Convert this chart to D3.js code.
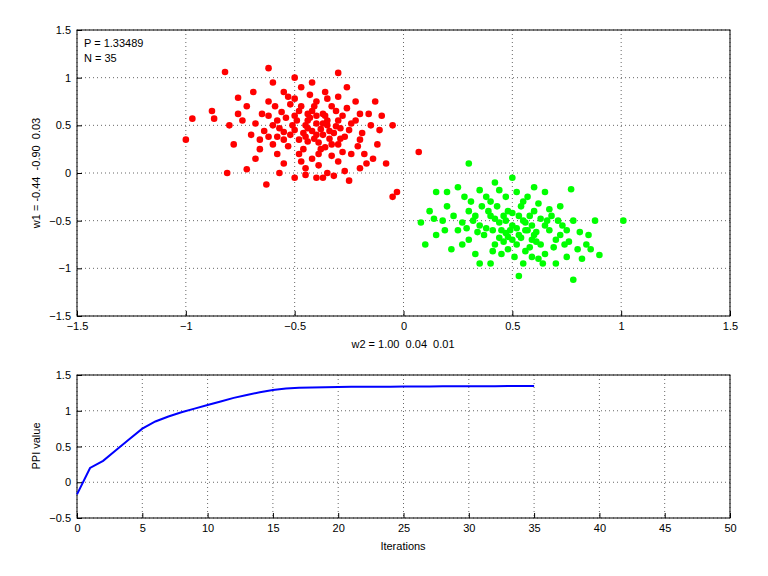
<!DOCTYPE html>
<html><head><meta charset="utf-8">
<script src="https://cdn.jsdelivr.net/npm/d3@7"></script>
<style>body{margin:0;background:#fff}text{font-family:"Liberation Sans",Arial,sans-serif;font-size:11px;white-space:pre}</style>
</head><body><svg id="c" width="768" height="576"></svg>
<script>
const redPts=[[-1.0,0.35],[-0.97,0.57],[-0.82,1.06],[-0.81,0.0],[-0.62,1.1],[-0.63,-0.12],[-0.72,0.04],[-0.3,1.05],[-0.05,0.5],[0.07,0.22],[-0.03,-0.2],[-0.05,-0.25],[-0.37,-0.05],[-0.4,-0.05],[-0.88,0.65],[-0.87,0.57],[-0.76,0.79],
[-0.45,0.5],[-0.4,0.4],[-0.5,0.6],[-0.35,0.55],[-0.55,0.35],[-0.3,0.3],[-0.42,0.65],[-0.6,0.5],[-0.25,0.45],[-0.48,0.2],[-0.38,0.25],[-0.52,0.72],[-0.33,0.7],[-0.65,0.62],[-0.28,0.6],[-0.44,0.33],[-0.58,0.2],[-0.2,0.35],[-0.7,0.4],[-0.36,0.85],[-0.47,0.9],[-0.55,0.85],[-0.62,0.75],[-0.22,0.75],[-0.15,0.5],[-0.18,0.2],[-0.3,0.12],[-0.45,0.05],[-0.55,0.1],[-0.66,0.25],[-0.74,0.55],[-0.78,0.3],[-0.68,0.15],[-0.4,0.75],[-0.32,0.42],[-0.5,0.45],[-0.58,0.55],[-0.26,0.9],[-0.1,0.6],[-0.12,0.3],[-0.08,0.1],[-0.2,0.05],[-0.35,0.0],[-0.5,-0.05],[-0.25,-0.08],[-0.42,0.15],[-0.62,0.38],[-0.72,0.7],[-0.8,0.5],[-0.6,0.95],[-0.5,1.0],[-0.42,0.95],[-0.3,0.8],[-0.37,0.62],[-0.46,0.42],[-0.53,0.28],[-0.4,0.52],[-0.34,0.36],[-0.28,0.22],[-0.16,0.62],[-0.22,0.55],[-0.47,0.7],[-0.56,0.64],[-0.64,0.44],[-0.38,0.46],[-0.43,0.58],[-0.31,0.49],
[-0.44,0.47],[-0.39,0.32],[-0.49,0.55],[-0.36,0.6],[-0.52,0.4],[-0.27,0.38],[-0.41,0.7],[-0.57,0.47],[-0.24,0.52],[-0.46,0.25],[-0.33,0.18],[-0.5,0.78],[-0.35,0.5],[-0.45,0.38],[-0.4,0.6],[-0.3,0.55],[-0.54,0.58],[-0.6,0.3],[-0.19,0.42],[-0.14,0.15],
[-0.42,0.44],[-0.37,0.52],[-0.48,0.35],[-0.33,0.3],[-0.51,0.5],[-0.29,0.47],[-0.44,0.62],[-0.39,0.2],[-0.55,0.43],[-0.26,0.68],[-0.35,0.78],[-0.47,0.12],[-0.62,0.6],[-0.21,0.28],[-0.31,0.65],[-0.53,0.8],[-0.43,0.82],[-0.59,0.7],[-0.68,0.52],[-0.17,0.1],[-0.27,0.02],[-0.39,0.08],[-0.24,0.2],[-0.11,0.45],[-0.13,0.75],[-0.69,0.85],[-0.76,0.62],[-0.66,0.35],[-0.57,0.0],[-0.45,-0.02],[-0.32,-0.03],[-0.2,0.62],[-0.34,0.44],[-0.41,0.36],[-0.36,0.27],[-0.48,0.65],[-0.58,0.38],[-0.29,0.36],[-0.44,0.55],[-0.37,0.4]];
const greenPts=[[0.5,-0.55],[0.45,-0.6],[0.55,-0.5],[0.6,-0.65],[0.4,-0.45],[0.35,-0.55],[0.65,-0.55],[0.5,-0.7],[0.48,-0.4],[0.58,-0.78],[0.42,-0.75],[0.3,-0.4],[0.7,-0.7],[0.68,-0.45],[0.25,-0.6],[0.55,-0.3],[0.38,-0.25],[0.45,-0.85],[0.62,-0.9],[0.75,-0.6],[0.8,-0.8],[0.2,-0.35],[0.22,-0.8],[0.3,-0.7],[0.52,-0.2],[0.72,-0.35],[0.85,-0.65],[0.6,-0.4],[0.4,-0.95],[0.65,-0.85],[0.18,-0.5],[0.12,-0.4],[0.28,-0.25],[0.33,-0.85],[0.57,-0.6],[0.47,-0.5],[0.53,-0.65],[0.43,-0.35],[0.37,-0.65],[0.63,-0.75],[0.78,-0.5],[0.82,-0.9],[0.7,-0.95],[0.55,-0.95],[0.25,-0.15],[0.42,-0.1],[0.5,-0.05],[0.65,-0.2],[0.15,-0.65],[0.2,-0.2],[0.32,-0.5],[0.58,-0.45],[0.46,-0.72],[0.74,-0.75],[0.86,-0.8],[0.88,-0.5],[0.9,-0.86],[0.78,-1.12],[0.53,-1.08],[0.35,-0.95],[0.08,-0.52],[0.1,-0.75],[0.3,0.1],[1.01,-0.5],[0.77,-0.17],[0.6,-0.15],[0.15,-0.2],
[0.52,-0.58],[0.47,-0.63],[0.56,-0.52],[0.61,-0.62],[0.42,-0.48],[0.38,-0.58],[0.67,-0.6],[0.52,-0.75],[0.5,-0.42],[0.59,-0.7],[0.44,-0.68],[0.33,-0.45],[0.72,-0.65],[0.66,-0.5],[0.27,-0.52],[0.54,-0.35],[0.4,-0.3],[0.48,-0.8],[0.64,-0.95],[0.76,-0.72],
[0.49,-0.6],[0.54,-0.68],[0.44,-0.52],[0.59,-0.55],[0.39,-0.4],[0.63,-0.48],[0.56,-0.82],[0.46,-0.45],[0.34,-0.62],[0.69,-0.78],[0.41,-0.82],[0.29,-0.58],[0.73,-0.55],[0.62,-0.32],[0.23,-0.45],[0.51,-0.88],[0.36,-0.35],[0.47,-0.25],[0.57,-0.25],[0.67,-0.38],[0.81,-0.62],[0.75,-0.88],[0.59,-0.88],[0.27,-0.75],[0.19,-0.6],[0.14,-0.48],[0.31,-0.3],[0.44,-0.18],[0.35,-0.18],[0.84,-0.75],[0.71,-0.5],[0.53,-0.45],[0.48,-0.67],[0.61,-0.72],[0.41,-0.6],[0.56,-0.6]];
const ppi=[-0.17,0.2,0.3,0.45,0.6,0.75,0.85,0.92,0.98,1.03,1.08,1.13,1.18,1.22,1.26,1.29,1.31,1.32,1.325,1.33,1.332,1.334,1.335,1.336,1.337,1.338,1.339,1.34,1.341,1.342,1.343,1.344,1.344,1.345,1.345,1.345];
const scatterTicks=[-1.5,-1,-0.5,0,0.5,1,1.5];
const iterTicks=[0,5,10,15,20,25,30,35,40,45,50];
const ppiTicks=[-0.5,0,0.5,1,1.5];

const svg=d3.select("#c");
function frame(g,x,y,xt,yt){
  const [x0,x1]=x.range(),[y1,y0]=y.range();
  g.selectAll(".gx").data(xt).join("line").attr("x1",d=>x(d)).attr("x2",d=>x(d)).attr("y1",y0).attr("y2",y1).attr("stroke","#000").attr("stroke-width",0.6).attr("stroke-dasharray","1,3");
  g.selectAll(".gy").data(yt).join("line").attr("y1",d=>y(d)).attr("y2",d=>y(d)).attr("x1",x0).attr("x2",x1).attr("stroke","#000").attr("stroke-width",0.6).attr("stroke-dasharray","1,3");
  g.append("rect").attr("x",x0).attr("y",y0).attr("width",x1-x0).attr("height",y1-y0).attr("fill","none").attr("stroke","#000");
  const xa=g.append("g").attr("transform",`translate(0,${y1})`).call(d3.axisBottom(x).tickValues(xt).tickSize(-5).tickPadding(6).tickFormat(d3.format("")));
  const ya=g.append("g").attr("transform",`translate(${x0},0)`).call(d3.axisLeft(y).tickValues(yt).tickSize(-5).tickPadding(6).tickFormat(d3.format("")));
  [xa,ya].forEach(a=>{a.select(".domain").remove();a.selectAll("text").attr("fill","#000").style("font-size","11px");});
}
const x1=d3.scaleLinear().domain([-1.5,1.5]).range([77,730]);
const y1=d3.scaleLinear().domain([-1.5,1.5]).range([316,30]);
const g1=svg.append("g");
frame(g1,x1,y1,scatterTicks,scatterTicks);
g1.selectAll(".r").data(redPts).join("circle").attr("cx",d=>x1(d[0])).attr("cy",d=>y1(d[1])).attr("r",3.3).attr("fill","#ff0000");
g1.selectAll(".g").data(greenPts).join("circle").attr("cx",d=>x1(d[0])).attr("cy",d=>y1(d[1])).attr("r",3.3).attr("fill","#00ff00");
g1.append("text").attr("x",84).attr("y",47).text("P = 1.33489");
g1.append("text").attr("x",84).attr("y",62).text("N = 35");
g1.append("text").attr("x",403).attr("y",348).attr("text-anchor","middle").text("w2 = 1.00  0.04  0.01");
g1.append("text").attr("transform","translate(40,173) rotate(-90)").attr("text-anchor","middle").text("w1 = -0.44  -0.90  0.03");

const x2=d3.scaleLinear().domain([0,50]).range([77,730]);
const y2=d3.scaleLinear().domain([-0.5,1.5]).range([518,375]);
const g2=svg.append("g");
frame(g2,x2,y2,iterTicks,ppiTicks);
g2.append("path").datum(ppi).attr("d",d3.line().x((d,i)=>x2(i)).y(d=>y2(d))).attr("fill","none").attr("stroke","#0000ff").attr("stroke-width",2);
g2.append("text").attr("x",403).attr("y",550).attr("text-anchor","middle").text("Iterations");
g2.append("text").attr("transform","translate(40,446) rotate(-90)").attr("text-anchor","middle").text("PPI value");
</script></body></html>
